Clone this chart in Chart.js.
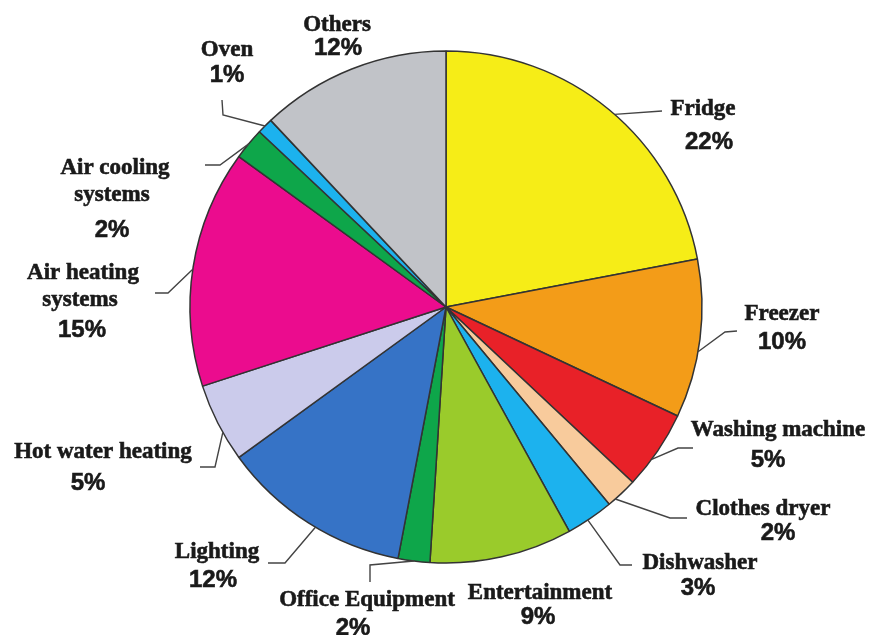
<!DOCTYPE html>
<html>
<head>
<meta charset="utf-8">
<script src="https://cdn.jsdelivr.net/npm/chart.js@4/dist/chart.umd.min.js"></script>
<style>
  html, body { margin:0; padding:0; background:#fff; }
  #wrap { width:870px; height:635px; }
</style>
</head>
<body>
<div id="wrap"><canvas id="pie" width="870" height="635"></canvas></div>
<script>
// household electricity use by appliance (%)
const categories = ['Fridge','Freezer','Washing machine','Clothes dryer','Dishwasher','Entertainment',
  'Office Equipment','Lighting','Hot water heating','Air heating systems','Air cooling systems','Oven','Others'];
const shares = [22,10,5,2,3,9,2,12,5,15,2,1,12];
const sliceColors = ['#f6ed17','#f39c18','#e82128','#f8cb9c','#1cb2ee','#9acb2b',
  '#0ea64a','#3673c6','#cbcbeb','#eb0c8e','#0ea64a','#1cb2ee','#c1c3c8'];

// where each label sits: name lines, percent line, and the leader line (t = spot along the slice edge)
const labelLayout = [
  { name:[['Fridge',703,109]], pct:[709,142], lead:{t:0.52, pts:[[662,111]]} },
  { name:[['Freezer',782,314]], pct:[782,342], lead:{t:0.58, pts:[[725,332],[737,331]]} },
  { name:[['Washing machine',778,430]], pct:[768,460], lead:{t:0.63, pts:[[678,448],[693,448]]} },
  { name:[['Clothes dryer',763,509]], pct:[778,533], lead:{t:0.75, pts:[[670,518],[687,518]]} },
  { name:[['Dishwasher',700,563]], pct:[698,588], lead:{t:0.55, pts:[[620,565],[632,565]]} },
  { name:[['Entertainment',540,593]], pct:[538,617], lead:null },
  { name:[['Office Equipment',367,600]], pct:[353,628], lead:{t:0.5, pts:[[370,565],[370,582]]} },
  { name:[['Lighting',217,552]], pct:[213,580], lead:{t:0.46, pts:[[285,563],[268,563]]} },
  { name:[['Hot water heating',103,452]], pct:[88,483], lead:{t:0.37, pts:[[215,467],[200,467]]} },
  { name:[['Air heating',83,273],['systems',80,300]], pct:[82,330], lead:{t:0.49, pts:[[168,293],[155,293]]} },
  { name:[['Air cooling',115,168],['systems',112,195]], pct:[112,230], lead:{t:0.5, pts:[[220,165],[205,165]]} },
  { name:[['Oven',227,50]], pct:[227,75], lead:{t:0.5, pts:[[223,115],[222,100]]} },
  { name:[['Others',337,25]], pct:[338,48], lead:null }
];

const calloutPlugin = {
  id: 'callouts',
  afterDatasetsDraw(chart) {
    const ctx = chart.ctx;
    const arcs = chart.getDatasetMeta(0).data;
    ctx.save();
    // leader lines
    ctx.strokeStyle = '#444';
    ctx.lineWidth = 1.4;
    labelLayout.forEach((lab, i) => {
      if (!lab.lead) return;
      const a = arcs[i];
      const ang = a.startAngle + (a.endAngle - a.startAngle) * lab.lead.t;
      ctx.beginPath();
      ctx.moveTo(a.x + a.outerRadius * Math.cos(ang), a.y + a.outerRadius * Math.sin(ang));
      lab.lead.pts.forEach(p => ctx.lineTo(p[0], p[1]));
      ctx.stroke();
    });
    // texts, with a thin outline so they read heavy
    ctx.fillStyle = '#1a1a1a';
    ctx.strokeStyle = '#1a1a1a';
    ctx.lineWidth = 0.6;
    ctx.textAlign = 'center';
    ctx.textBaseline = 'middle';
    labelLayout.forEach((lab, i) => {
      ctx.font = 'bold 23px "Liberation Serif", "Times New Roman", serif';
      lab.name.forEach(n => { ctx.fillText(n[0], n[1], n[2]); ctx.strokeText(n[0], n[1], n[2]); });
      ctx.font = 'bold 24px "Liberation Sans", Arial, sans-serif';
      const t = shares[i] + '%';
      ctx.fillText(t, lab.pct[0], lab.pct[1]);
      ctx.strokeText(t, lab.pct[0], lab.pct[1]);
    });
    ctx.restore();
  }
};

new Chart(document.getElementById('pie').getContext('2d'), {
  type: 'pie',
  data: {
    labels: categories,
    datasets: [{
      data: shares,
      backgroundColor: sliceColors,
      borderColor: '#333',
      borderWidth: 1.5
    }]
  },
  options: {
    responsive: false,
    animation: false,
    radius: 256,
    layout: { padding: { left: 22, right: 0, top: 0, bottom: 21 } },
    plugins: { legend: { display: false }, tooltip: { enabled: false } }
  },
  plugins: [calloutPlugin]
});
</script>
</body>
</html>
